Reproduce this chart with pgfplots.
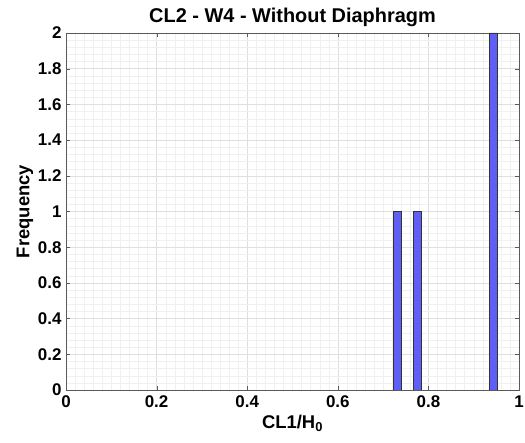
\documentclass[border=0pt]{standalone}
\usepackage{fontspec}
\setmainfont{Liberation Sans}
\usepackage{pgfplots}
\pgfplotsset{compat=1.18}
\definecolor{barblue}{RGB}{95,95,245}
\definecolor{axgray}{RGB}{90,90,90}
\begin{document}
\begin{tikzpicture}
\path[use as bounding box] (-66bp,-53bp) rectangle (459bp,390bp);
\begin{axis}[
  scale only axis,
  width=453bp, height=357bp,
  xmin=0, xmax=1, ymin=0, ymax=2,
  xtick={0,0.2,...,1}, ytick={0,0.2,...,2},
  minor x tick num=9, minor y tick num=4,
  grid=both,
  major grid style={gray!25, line width=0.4pt},
  minor grid style={gray!12, line width=0.3pt},
  axis line style={axgray, line width=0.8pt},
  tick style={axgray},
  tick align=inside,
  major tick length=4bp, minor tick length=0pt,
  tick label style={font=\fontsize{17}{19}\selectfont\bfseries},
  /pgf/number format/assume math mode=true,
  yticklabel style={/pgf/number format/fixed, xshift=-1bp},
  xticklabel style={/pgf/number format/fixed, yshift=-2bp},
  title={CL2 - W4 - Without Diaphragm},
  title style={font=\fontsize{20}{22}\selectfont\bfseries, yshift=-3bp},
  xlabel={CL1/H\textsubscript{0}},
  ylabel={Frequency},
  label style={font=\fontsize{18.5}{20}\selectfont\bfseries},
  xlabel style={yshift=-1bp},
  ylabel style={yshift=-2bp},
]
\addplot[ybar, bar width=0.0177, fill=barblue, draw=black!80, line width=0.6pt]
  coordinates {(0.731,1) (0.776,1) (0.943,2)};
\end{axis}
\end{tikzpicture}
\end{document}
